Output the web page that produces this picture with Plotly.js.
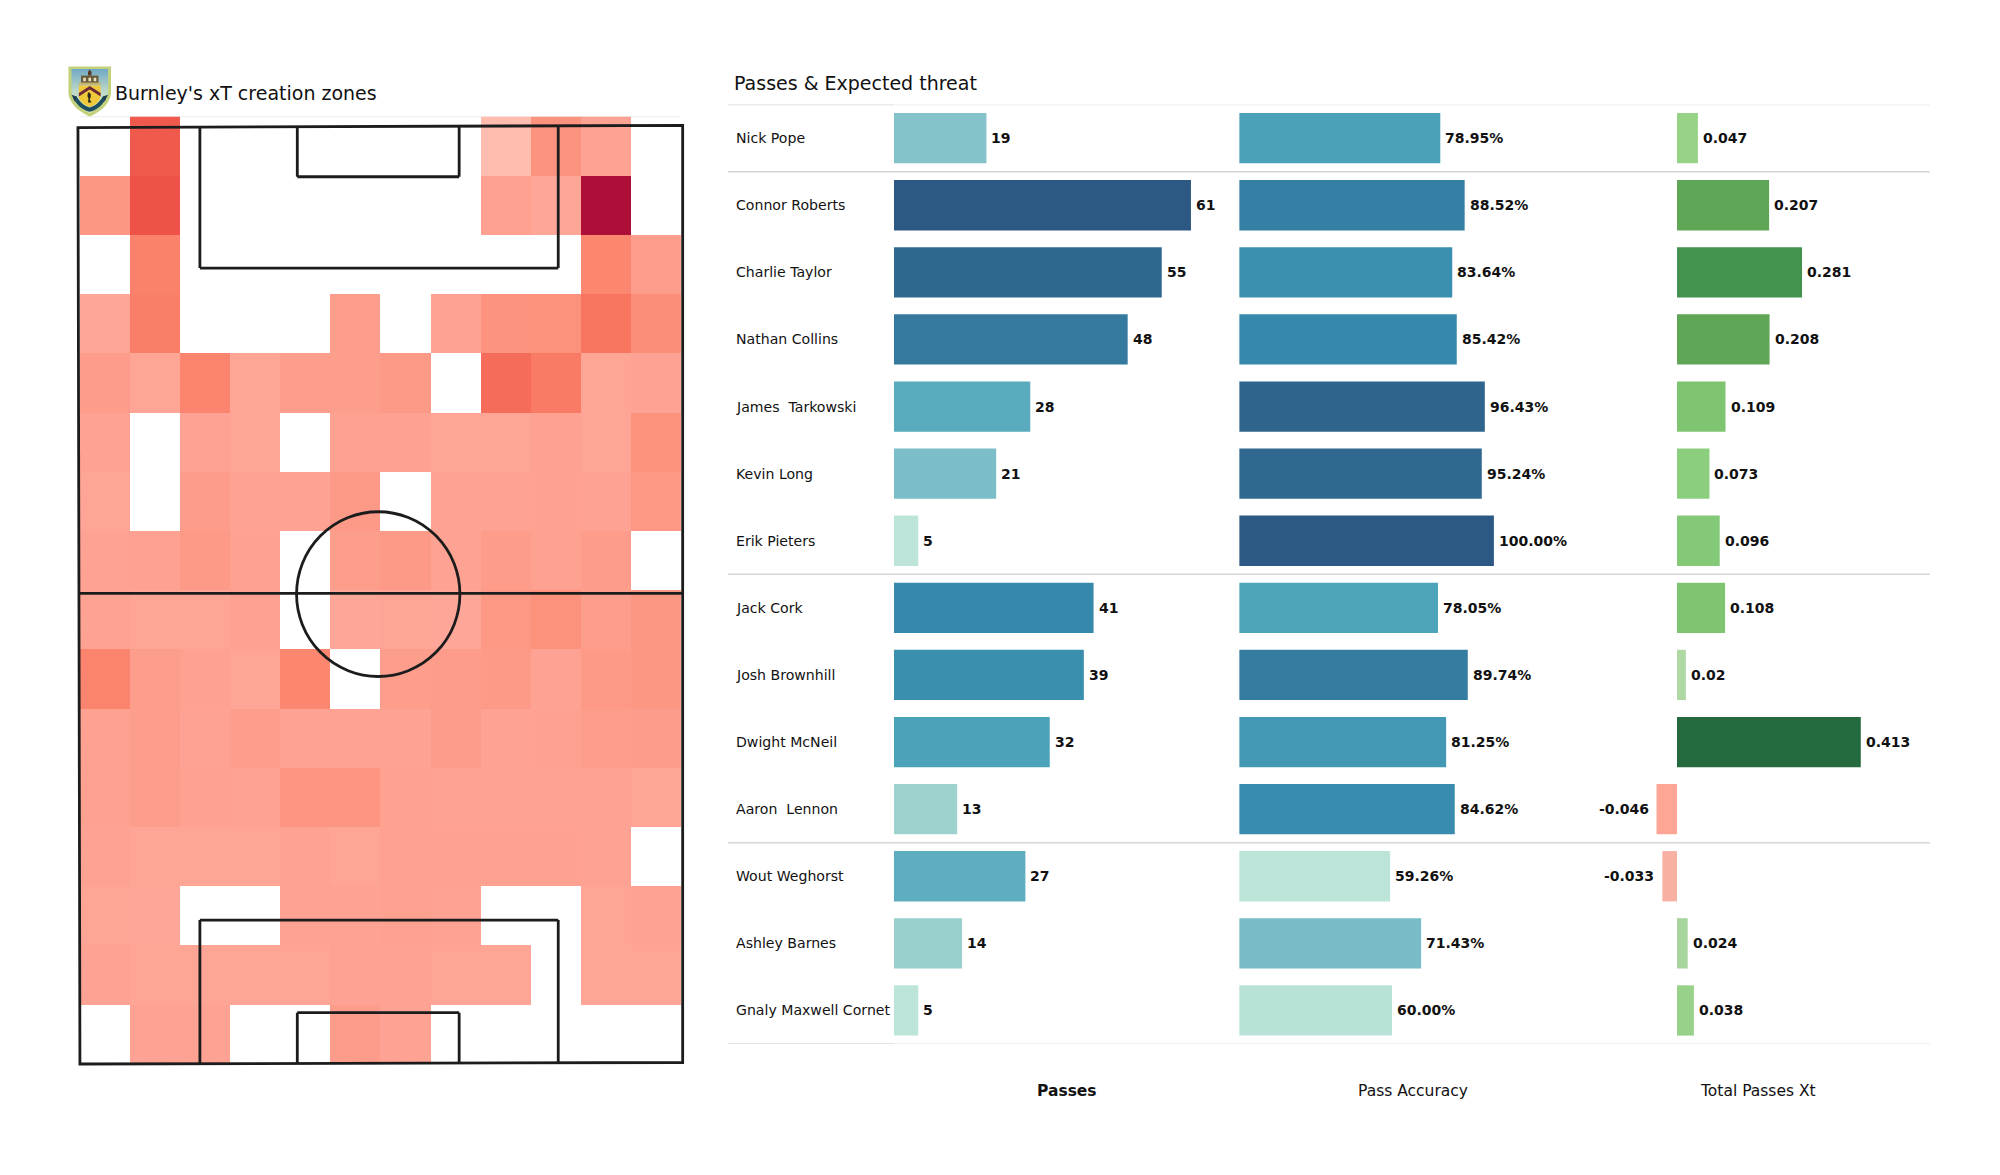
<!DOCTYPE html>
<html>
<head>
<meta charset="utf-8">
<script src="https://cdn.plot.ly/plotly-3.0.1.min.js"></script>
<style>html,body{margin:0;padding:0;background:#fff}#chart{width:2000px;height:1175px}</style>
</head>
<body>
<div id="chart"></div>
<script>
// ---- data ----
const players = ["Nick Pope","Connor Roberts","Charlie Taylor","Nathan Collins","James  Tarkowski","Kevin Long","Erik Pieters","Jack Cork","Josh Brownhill","Dwight McNeil","Aaron  Lennon","Wout Weghorst","Ashley Barnes","Gnaly Maxwell Cornet"];
const passes = [19,61,55,48,28,21,5,41,39,32,13,27,14,5];
const passAccuracy = [78.95,88.52,83.64,85.42,96.43,95.24,100.00,78.05,89.74,81.25,84.62,59.26,71.43,60.00];
const totalPassesXt = [0.047,0.207,0.281,0.208,0.109,0.073,0.096,0.108,0.02,0.413,-0.046,-0.033,0.024,0.038];
const groupBreaks = [-0.5,0.5,6.5,10.5,13.5];
const columnTitles = ["Passes","Pass Accuracy","Total Passes Xt"];
const leftTitle = "Burnley's xT creation zones";
const rightTitle = "Passes & Expected threat";
const n = null;
// xT creation zones, top row of the picture first
const heat01 = [n,.60,n,n,n,n,n,n,.03,.22,.14,n];
const heat02 = [.20,.65,n,n,n,n,n,n,.15,.12,1,n];
const heat03 = [n,.33,n,n,n,n,n,n,n,n,.30,.16];
const heat04 = [.12,.35,n,n,n,.16,n,.14,.22,.23,.42,.25];
const heat05 = [.17,.13,.32,.13,.16,.16,.18,n,.48,.38,.13,.14];
const heat06 = [.14,n,.14,.13,n,.15,.15,.13,.13,.15,.13,.23];
const heat07 = [.13,n,.17,.14,.14,.18,n,.14,.14,.15,.14,.19];
const heat08 = [.14,.15,.18,.15,n,.16,.18,.14,.17,.15,.17,n];
const heat09 = [.14,.13,.13,.15,n,.12,.13,.12,.19,.23,.16,.20];
const heat10 = [.32,.16,.15,.13,.30,n,.16,.17,.18,.14,.18,.20];
const heat11 = [.15,.16,.14,.16,.14,.14,.14,.17,.14,.15,.16,.17];
const heat12 = [.15,.16,.15,.14,.21,.21,.15,.14,.14,.14,.14,.13];
const heat13 = [.14,.13,.13,.13,.14,.13,.15,.15,.15,.15,.14,n];
const heat14 = [.13,.12,n,n,.14,.14,.15,.14,n,n,.13,.14];
const heat15 = [.14,.13,.13,.13,.13,.14,.14,.13,.13,n,.13,.13];
const heat16 = [n,.14,.14,n,n,.17,.14,n,n,n,n,n];
const heatRows = [heat01,heat02,heat03,heat04,heat05,heat06,heat07,heat08,heat09,heat10,heat11,heat12,heat13,heat14,heat15,heat16];

// ---- layout helpers (figure pixels) ----
const W = 2000, H = 1175;
const fx = p => p / W, fy = p => 1 - p / H;
const ink = "#111111";
const font = "DejaVu Sans";

const heatScale = [[0,"#ffc9bd"],[.03,"#ffbdb0"],[.13,"#fea596"],[.18,"#fd9a87"],[.25,"#fb8e78"],[.35,"#fa7f68"],[.48,"#f66c5a"],[.65,"#ee5248"],[1,"#ae0f38"]];
const tealScale = [[0,"#bce4d8"],[.143,"#9dd2cf"],[.25,"#84c3ca"],[.4,"#5dacbf"],[.48,"#4aa3b9"],[.64,"#3689ab"],[.77,"#35799f"],[.89,"#30678f"],[1,"#2c5884"]];
const xtScale = [[0,"#ffa596"],[.028,"#f8b0a2"],[.144,"#b0d8a4"],[.153,"#a8d59d"],[.183,"#98d28a"],[.2,"#96d386"],[.26,"#8bcf7e"],[.31,"#84c978"],[.336,"#7fc470"],[.55,"#60a657"],[.712,"#43924f"],[1,"#246a3e"]];

const rows = players.map((_, i) => i);
function barTrace(values, axis, scale, cmin, cmax) {
  return {
    type: "bar", orientation: "h", x: values, y: rows, width: 0.75,
    xaxis: axis, yaxis: "y2",
    marker: {color: values, colorscale: scale, cmin, cmax, line: {width: 0}},
    hoverinfo: "skip", showlegend: false
  };
}

const traces = [
  {type: "heatmap", z: heatRows.slice().reverse(), x0: 3.57, dx: 6.62, y0: 3.729, dy: 7.578,
   colorscale: heatScale, zmin: 0, zmax: 1, showscale: false, hoverongaps: false, hoverinfo: "skip"},
  barTrace(passes, "x2", tealScale, 5, 61),
  barTrace(passAccuracy, "x3", tealScale, 59.26, 100),
  barTrace(totalPassesXt, "x4", xtScale, -0.046, 0.413)
];

const pitchLine = {color: "#1c1c1c", width: 2.8};
const seg = (x0, y0, x1, y1) => ({type: "line", xref: "x", yref: "y", x0, y0, x1, y1, line: pitchLine});
const shapes = [
  {type: "path", xref: "x", yref: "y", line: pitchLine, path: "M 0 119.8 L 79.95 120.08 L 79.95 0.06 L 0.26 -0.13 Z"},
  seg(0.1, 60.15, 79.95, 60.15),
  {type: "circle", xref: "x", yref: "y", x0: 28.9, x1: 50.5, y0: 49.5, y1: 70.6, line: pitchLine},
  seg(16.12, 120, 16.12, 101.8), seg(16.12, 101.8, 63.5, 101.8), seg(63.5, 101.8, 63.5, 120),
  seg(29, 120, 29, 113.5), seg(29, 113.5, 50.4, 113.5), seg(50.4, 113.5, 50.4, 120),
  seg(16.12, 0, 16.12, 18.3), seg(16.12, 18.3, 63.5, 18.3), seg(63.5, 18.3, 63.5, 0),
  seg(29, 0, 29, 6.44), seg(29, 6.44, 50.4, 6.44), seg(50.4, 6.44, 50.4, 0),
  {type: "line", xref: "paper", yref: "paper", x0: fx(80), x1: fx(680), y0: fy(116.7), y1: fy(116.7), line: {color: "#eeeeee", width: 1}, layer: "below"}
];
groupBreaks.forEach((b, i) => {
  const edge = i === 0 || i === groupBreaks.length - 1;
  shapes.push({type: "line", xref: "paper", yref: "y2", x0: fx(728), x1: fx(894), y0: b, y1: b, line: {color: edge ? "#d8d8d8" : "#d6d6d6", width: 1.5}});
  shapes.push({type: "line", xref: "paper", yref: "y2", x0: fx(894), x1: fx(1930), y0: b, y1: b, line: {color: edge ? "#ececec" : "#d6d6d6", width: 1.5}});
});

const note = (text, x, y, anchor, size, bold) => ({
  text, xref: "paper", yref: "paper", x: fx(x), y: fy(y), xanchor: anchor, yanchor: "middle",
  showarrow: false, borderpad: 0, borderwidth: 0,
  font: {family: font, size, color: ink, weight: bold ? 700 : 400}
});
const annotations = [
  note(leftTitle, 114.5, 93.5, "left", 19),
  note(rightTitle, 734, 83, "left", 19),
  note(columnTitles[0], 1067, 1091, "center", 15.5, true),
  note(columnTitles[1], 1412.5, 1091, "center", 15.5),
  note(columnTitles[2], 1758, 1091, "center", 15.5)
];
players.forEach((p, i) => annotations.push({
  text: p, xref: "paper", yref: "y2", x: fx(736), y: i, xanchor: "left", yanchor: "middle", yshift: 0,
  showarrow: false, borderpad: 0, borderwidth: 0, font: {family: font, size: 14.1, color: ink}
}));
function addLabels(values, labels, axis) {
  values.forEach((v, i) => annotations.push({
    text: labels[i], xref: axis, yref: "y2", x: v, y: i,
    xanchor: v < 0 ? "right" : "left", yanchor: "middle",
    xshift: v < 0 ? -8 : 5, yshift: 0,
    showarrow: false, borderpad: 0, borderwidth: 0,
    font: {family: font, size: 14, color: ink, weight: 700}
  }));
}
addLabels(passes, passes.map(String), "x2");
addLabels(passAccuracy, passAccuracy.map(v => v.toFixed(2) + "%"), "x3");
addLabels(totalPassesXt, totalPassesXt.map(String), "x4");

const crest = `<svg xmlns="http://www.w3.org/2000/svg" viewBox="0 0 100 117">
<defs><linearGradient id="g" x1="0" y1="0" x2="0" y2="1"><stop offset="0" stop-color="#6fa9c6"/><stop offset=".5" stop-color="#bcd8c8"/><stop offset="1" stop-color="#e6eec8"/></linearGradient></defs>
<path d="M1 1H99V58C99 88 72 106 50 116C28 106 1 88 1 58Z" fill="#c3d27a"/>
<path d="M8 7H92V58C92 82 68 99 50 108C32 99 8 82 8 58Z" fill="url(#g)"/>
<path d="M46 14L50 8L54 14V22H46Z" fill="#5a3a20"/>
<rect x="30" y="22" width="40" height="18" fill="#6a5a3c"/>
<rect x="25" y="38" width="50" height="5" fill="#c9b26a"/>
<rect x="35" y="27" width="6" height="8" fill="#e8e2c0"/><rect x="47" y="27" width="6" height="8" fill="#e8e2c0"/><rect x="59" y="27" width="6" height="8" fill="#e8e2c0"/>
<path d="M25 45H75V68C75 82 60 90 50 94C40 90 25 82 25 68Z" fill="#f0c93a"/>
<path d="M25 62L50 46L75 62V70L50 54L25 70Z" fill="#6b2a35"/>
<path d="M47 60C54 62 54 70 50 76L54 84H46L47 74C44 70 44 64 47 60Z" fill="#2c2c1c"/>
<path d="M12 74C22 92 36 102 50 105C64 102 78 92 88 74L80 70C72 84 62 92 50 95C38 92 28 84 20 70Z" fill="#1d4f5f"/>
<path d="M8 66L20 70L16 82Z" fill="#1d3d55"/><path d="M92 66L80 70L84 82Z" fill="#1d3d55"/>
</svg>`;

const layout = {
  width: W, height: H, margin: {l: 0, r: 0, t: 0, b: 0},
  paper_bgcolor: "#ffffff", plot_bgcolor: "rgba(0,0,0,0)", showlegend: false,
  font: {family: font},
  xaxis:  {domain: [fx(70.4), fx(690.6)], range: [-1, 81], visible: false, fixedrange: true},
  yaxis:  {domain: [fy(1078.6), fy(110.4)], range: [-2, 122], visible: false, fixedrange: true},
  yaxis2: {domain: [fy(1044), fy(104.6)], range: [13.5, -0.5], visible: false, fixedrange: true, anchor: "x2"},
  xaxis2: {domain: [fx(893.9), fx(1230)], range: [0, (1230 - 893.9) / 4.87], visible: false, fixedrange: true, anchor: "y2"},
  xaxis3: {domain: [fx(1239.2), fx(1600)], range: [0, (1600 - 1239.2) / 2.547], visible: false, fixedrange: true, anchor: "y2"},
  xaxis4: {domain: [fx(1600), fx(1930)], range: [(1600 - 1677) / 445, (1930 - 1677) / 445], visible: false, fixedrange: true, anchor: "y2"},
  shapes, annotations,
  images: [{source: "data:image/svg+xml;base64," + btoa(crest), xref: "paper", yref: "paper",
            x: fx(68), y: fy(66), sizex: 43.5 / W, sizey: 51 / H, xanchor: "left", yanchor: "top", sizing: "stretch", layer: "above"}]
};
Plotly.newPlot("chart", traces, layout, {displayModeBar: false, staticPlot: true});
</script>
</body>
</html>
